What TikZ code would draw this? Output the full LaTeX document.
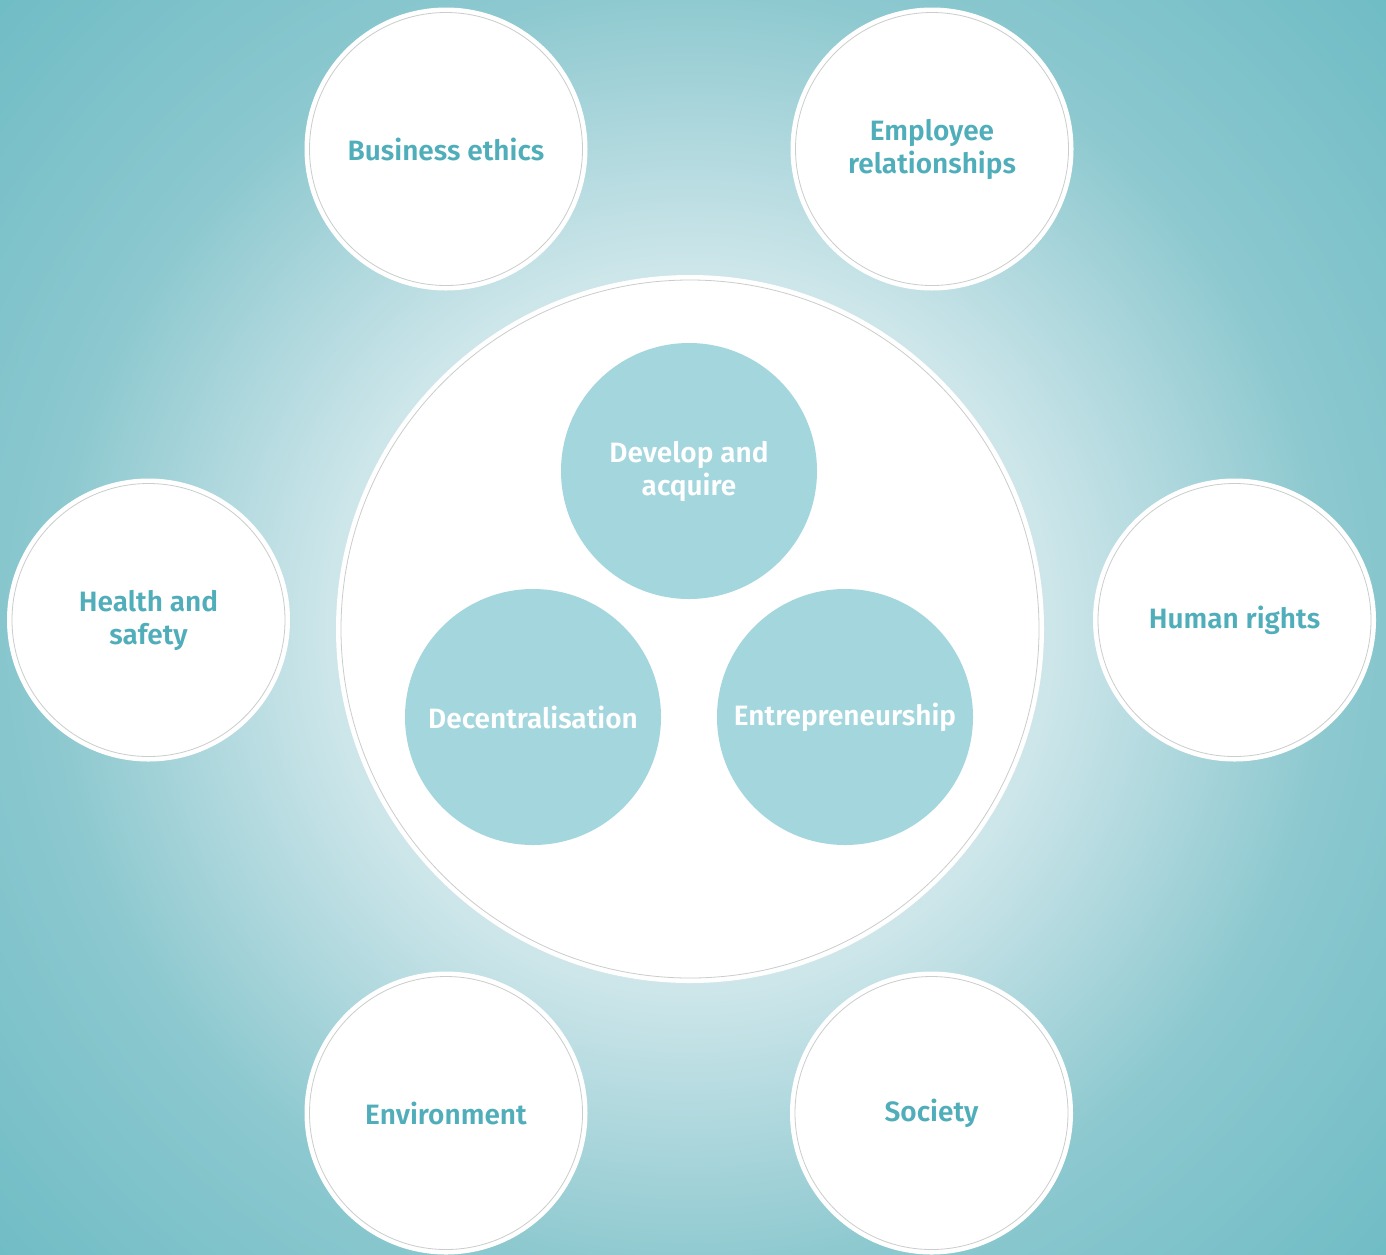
\documentclass[tikz,border=0pt]{standalone}
\usepackage{fontspec}
\newfontfamily\labfont{Fira Sans SemiBold}
\definecolor{bgdark}{HTML}{6FBCC5}
\definecolor{bgmid}{HTML}{8CC8CF}
\definecolor{bglight}{HTML}{CDE6EA}
\definecolor{innerfill}{HTML}{A4D6DE}
\definecolor{labteal}{HTML}{50AEBA}
\definecolor{ringgray}{HTML}{C9CDCE}
\pgfdeclareradialshading{bgshade}{\pgfpoint{0bp}{0bp}}{color(0bp)=(white); color(9.5bp)=(bglight); color(17bp)=(bgmid); color(25bp)=(bgdark); color(50bp)=(bgdark)}
\tikzset{
  labtext/.style={font=\labfont\fontsize{28}{33}\selectfont, align=center},
  outerc/.style={circle, fill=white, minimum size=283pt, inner sep=0pt, text=labteal, labtext},
  corec/.style={circle, fill=white, minimum size=708pt, inner sep=0pt},
  innerc/.style={circle, fill=innerfill, minimum size=256pt, inner sep=0pt, text=white, labtext},
  ringline/.style={draw=ringgray, line width=0.8pt}
}
\begin{document}
\begin{tikzpicture}[x=1pt,y=-1pt]
\useasboundingbox (0,0) rectangle (1386,1254);
\fill[bgdark] (0,0) rectangle (1386,1254);
\begin{scope}
  \clip (0,0) rectangle (1386,1254);
  \shade[shading=bgshade] (690,630) circle[radius=950];
\end{scope}
\begin{scope}
\clip (0,0) rectangle (1386,1254);
\node[outerc] (be) at (446,149) {Business ethics};
\node[outerc] (er) at (932,149) {Employee\\relationships};
\node[outerc] (hs) at (148.5,620) {Health and\\safety};
\node[outerc] (hr) at (1234.5,620) {Human rights};
\node[outerc] (en) at (446,1113) {Environment};
\node[outerc] (so) at (931.5,1113) {Society};
\node[corec] (core) at (690,629) {};
\foreach \n in {be,er,hs,hr,en,so}{
  \draw[ringline] (\n.center) circle[radius=136.5];
}
\draw[ringline] (core.center) circle[radius=349];
\end{scope}
\node[innerc] (da) at (689,471) {Develop and\\acquire};
\node[innerc] (de) at (533,717) {Decentralisation};
\node[innerc] (ep) at (845,717) {Entrepreneurship};
\end{tikzpicture}
\end{document}
